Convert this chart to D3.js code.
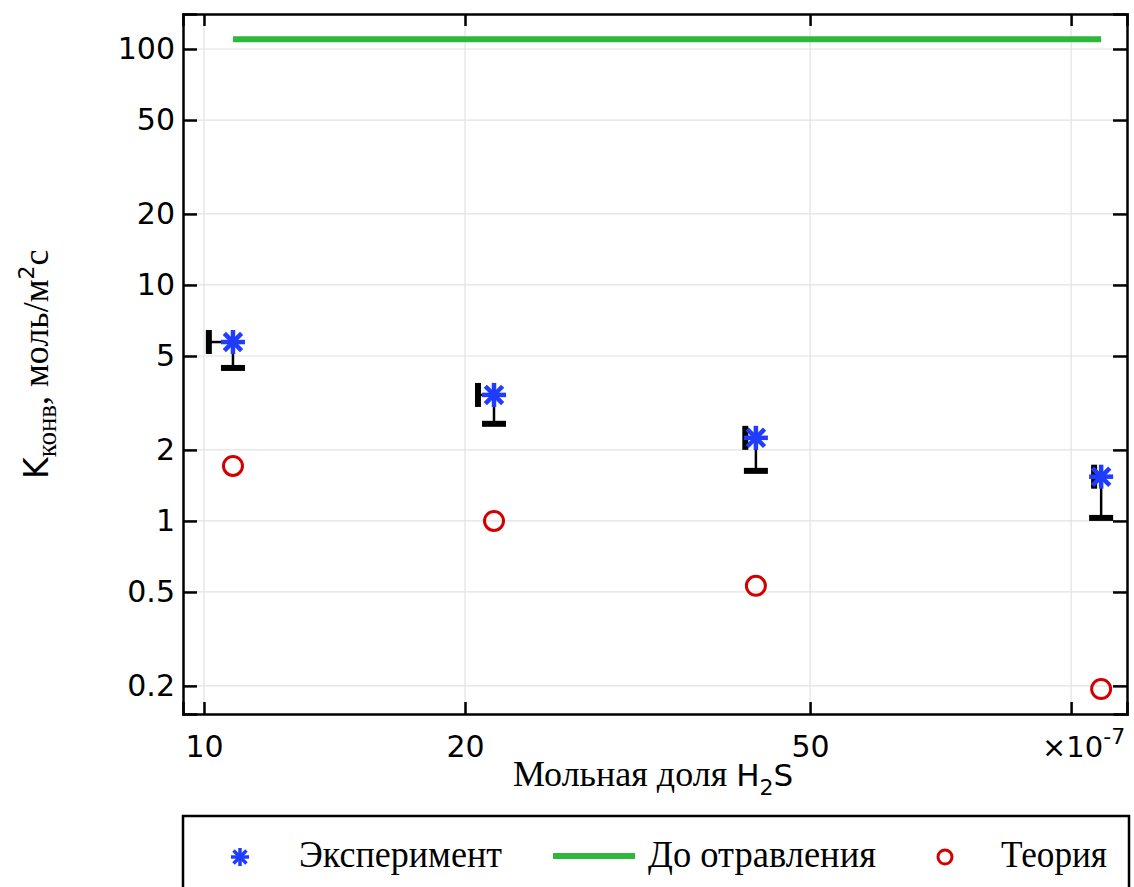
<!DOCTYPE html>
<html>
<head>
<meta charset="utf-8">
<script src="https://cdn.jsdelivr.net/npm/d3@7"></script>
<style>
  html, body { margin: 0; padding: 0; background: #fff; }
  svg { display: block; }
</style>
</head>
<body>
<svg id="chart" width="1134" height="887"></svg>
<script>
// Mole fraction of H2S (units of 1e-7)
const fractionH2S = [10.8, 21.6, 43.3, 108.3];
// Experimental conversion rate constant, mol/m2 s
const expValues = [5.73, 3.42, 2.25, 1.54];
const expLow    = [4.45, 2.58, 1.63, 1.03];
const expHigh   = [6.38, 3.77, 2.48, 1.69];
const fractionLow = [10.13, 20.7, 42.1, 106.3];
// Theoretical prediction
const theoryValues = [1.71, 1.0, 0.531, 0.194];
// Level before poisoning
const beforeX = [10.8, 108.3];
const beforeY = [110, 110];

const xTicks = [10, 20, 50, 100];
const xTickLabels = ["10", "20", "50", ""];
const yTicks = [0.2, 0.5, 1, 2, 5, 10, 20, 50, 100];
const yTickLabels = ["0.2", "0.5", "1", "2", "5", "10", "20", "50", "100"];

const legendLabels = ["Эксперимент", "До отравления", "Теория"];

const blue = "#1f3cff", green = "#2db83d", red = "#d40000";

const svg = d3.select("#chart");
const L = 183, R = 1127, T = 14, B = 714;

const x = d3.scaleLog().domain([9.458, 116.0]).range([L, R]);
const y = d3.scaleLog().domain([0.152, 140.7]).range([B, T]);

// grid
const grid = svg.append("g").attr("stroke", "#e2e2e2").attr("stroke-width", 1.2);
xTicks.forEach(t => grid.append("line").attr("x1", x(t)).attr("x2", x(t)).attr("y1", T).attr("y2", B));
yTicks.forEach(t => grid.append("line").attr("x1", L).attr("x2", R).attr("y1", y(t)).attr("y2", y(t)));

// axes with inward ticks on all four sides
const tickFont = "'DejaVu Sans', sans-serif";
const ax = svg.append("g");
const bottomAxis = d3.axisBottom(x).tickValues(xTicks).tickSize(-12).tickPadding(22)
  .tickFormat((d, i) => xTickLabels[i]);
ax.append("g").attr("transform", `translate(0,${B})`).call(bottomAxis);
ax.append("g").attr("transform", `translate(0,${T})`).call(d3.axisTop(x).tickValues(xTicks).tickSize(-12).tickFormat(""));
const leftAxis = d3.axisLeft(y).tickValues(yTicks).tickSize(-14).tickPadding(8)
  .tickFormat((d, i) => yTickLabels[i]);
ax.append("g").attr("transform", `translate(${L},0)`).call(leftAxis);
ax.append("g").attr("transform", `translate(${R},0)`).call(d3.axisRight(y).tickValues(yTicks).tickSize(-14).tickFormat(""));
ax.selectAll("g").attr("font-size", null).attr("font-family", null);
ax.selectAll(".domain").attr("stroke", "#000").attr("stroke-width", 2.5);
ax.selectAll(".tick line").attr("stroke", "#000").attr("stroke-width", 2.5);
ax.selectAll(".tick text").attr("font-family", tickFont).attr("font-size", 30).attr("fill", "#000");

// exponent label for x axis
const expo = svg.append("text").attr("x", 1042).attr("y", 757)
  .attr("font-family", tickFont).attr("font-size", 29).attr("fill", "#000");
expo.append("tspan").text("×10");
expo.append("tspan").attr("dy", -13).attr("font-size", 22).text("-7");

// before poisoning line
svg.append("path")
  .datum(beforeX.map((v, i) => [v, beforeY[i]]))
  .attr("d", d3.line().x(d => x(d[0])).y(d => y(d[1])))
  .attr("stroke", green).attr("stroke-width", 6).attr("fill", "none");

// error bars
const eb = svg.append("g").attr("stroke", "#000");
fractionH2S.forEach((fx, i) => {
  const cx = x(fx), cy = y(expValues[i]);
  eb.append("line").attr("x1", cx).attr("x2", cx).attr("y1", y(expHigh[i])).attr("y2", y(expLow[i])).attr("stroke-width", 2.5);
  eb.append("line").attr("x1", cx - 12).attr("x2", cx + 12).attr("y1", y(expLow[i])).attr("y2", y(expLow[i])).attr("stroke-width", 6);
  eb.append("line").attr("x1", x(fractionLow[i])).attr("x2", cx).attr("y1", cy).attr("y2", cy).attr("stroke-width", 2.5);
  eb.append("line").attr("x1", x(fractionLow[i])).attr("x2", x(fractionLow[i])).attr("y1", cy - 12).attr("y2", cy + 12).attr("stroke-width", 6);
});

// asterisk marker
function star(g, cx, cy, r, sw) {
  const s = g.append("g").attr("stroke", blue).attr("stroke-width", sw).attr("stroke-linecap", "butt");
  s.append("line").attr("x1", cx).attr("x2", cx).attr("y1", cy - r).attr("y2", cy + r);
  s.append("line").attr("x1", cx - r).attr("x2", cx + r).attr("y1", cy).attr("y2", cy);
  const d = r * 0.72;
  s.append("line").attr("x1", cx - d).attr("x2", cx + d).attr("y1", cy - d).attr("y2", cy + d);
  s.append("line").attr("x1", cx - d).attr("x2", cx + d).attr("y1", cy + d).attr("y2", cy - d);
}
const stars = svg.append("g");
fractionH2S.forEach((fx, i) => star(stars, x(fx), y(expValues[i]), 12, 4.5));

// theory circles
svg.append("g").selectAll("circle").data(theoryValues).join("circle")
  .attr("cx", (d, i) => x(fractionH2S[i])).attr("cy", d => y(d)).attr("r", 9.5)
  .attr("fill", "none").attr("stroke", red).attr("stroke-width", 3);

// axis titles
const serif = "'Liberation Serif', 'Times New Roman', serif";
const xl = svg.append("text").attr("x", 513).attr("y", 786).attr("font-family", serif)
  .attr("font-size", 36).attr("fill", "#000");
xl.append("tspan").text("Мольная доля ");
xl.append("tspan").attr("font-family", tickFont).attr("font-size", 31).text("H");
xl.append("tspan").attr("font-family", tickFont).attr("font-size", 22).attr("dy", 9).text("2");
xl.append("tspan").attr("font-family", tickFont).attr("font-size", 31).attr("dy", -9).text("S");

const yl = svg.append("text").attr("transform", "translate(48,479) rotate(-90)")
  .attr("font-family", serif).attr("font-size", 36).attr("fill", "#000");
yl.append("tspan").attr("font-family", tickFont).attr("font-size", 33).text("K");
yl.append("tspan").attr("font-size", 27).attr("dy", 8).text("конв");
yl.append("tspan").attr("dy", -8).text(", моль/м");
yl.append("tspan").attr("font-family", tickFont).attr("font-size", 22).attr("dy", -14).text("2");
yl.append("tspan").attr("dy", 14).text("с");

// legend
const lg = svg.append("g");
lg.append("rect").attr("x", 183).attr("y", 816).attr("width", 946).attr("height", 100)
  .attr("fill", "#fff").attr("stroke", "#000").attr("stroke-width", 2.5);
star(lg, 240, 857, 9, 3.5);
lg.append("line").attr("x1", 553).attr("x2", 635).attr("y1", 856).attr("y2", 856).attr("stroke", green).attr("stroke-width", 6);
lg.append("circle").attr("cx", 945).attr("cy", 857).attr("r", 7).attr("fill", "none").attr("stroke", red).attr("stroke-width", 3);
const legX = [299, 648, 1001], legW = [203, 228, 106];
legendLabels.forEach((t, i) => {
  lg.append("text").attr("x", legX[i]).attr("y", 867).attr("font-family", serif).attr("font-size", 37)
    .attr("textLength", legW[i]).attr("lengthAdjust", "spacingAndGlyphs").attr("fill", "#000").text(t);
});
</script>
</body>
</html>
